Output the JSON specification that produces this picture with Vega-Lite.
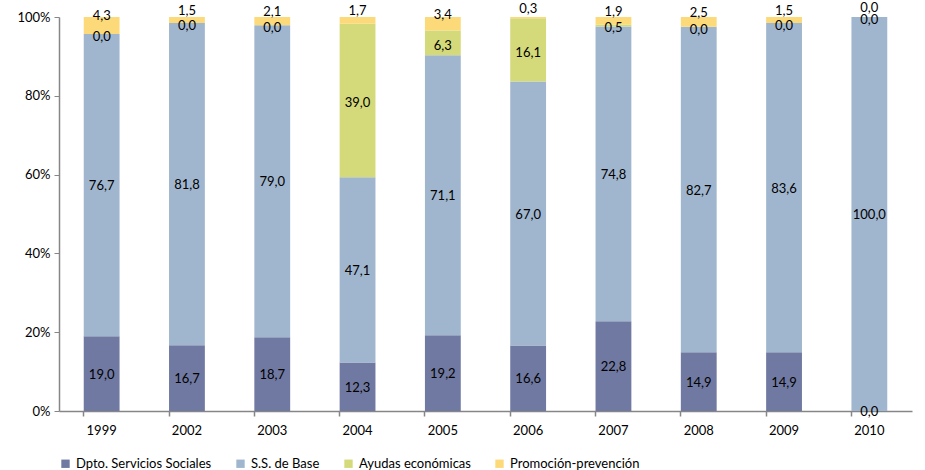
{
  "$schema": "https://vega.github.io/schema/vega-lite/v6.json",
  "width": 853,
  "height": 394,
  "autosize": "none",
  "padding": {"left": 59, "top": 17, "right": 13, "bottom": 59},
  "config": {
    "view": {"stroke": null},
    "font": "Lato",
    "locale": {"number": {"decimal": ",", "thousands": ".", "grouping": [3], "currency": ["", " €"]}}
  },
  "data": {"values": [
    {"year": "1999", "serie": "Dpto. Servicios Sociales", "value": 19.0},
    {"year": "1999", "serie": "S.S. de Base", "value": 76.7},
    {"year": "1999", "serie": "Ayudas económicas", "value": 0.0},
    {"year": "1999", "serie": "Promoción-prevención", "value": 4.3},
    {"year": "2002", "serie": "Dpto. Servicios Sociales", "value": 16.7},
    {"year": "2002", "serie": "S.S. de Base", "value": 81.8},
    {"year": "2002", "serie": "Ayudas económicas", "value": 0.0},
    {"year": "2002", "serie": "Promoción-prevención", "value": 1.5},
    {"year": "2003", "serie": "Dpto. Servicios Sociales", "value": 18.7},
    {"year": "2003", "serie": "S.S. de Base", "value": 79.0},
    {"year": "2003", "serie": "Ayudas económicas", "value": 0.0},
    {"year": "2003", "serie": "Promoción-prevención", "value": 2.1},
    {"year": "2004", "serie": "Dpto. Servicios Sociales", "value": 12.3},
    {"year": "2004", "serie": "S.S. de Base", "value": 47.1},
    {"year": "2004", "serie": "Ayudas económicas", "value": 39.0},
    {"year": "2004", "serie": "Promoción-prevención", "value": 1.7},
    {"year": "2005", "serie": "Dpto. Servicios Sociales", "value": 19.2},
    {"year": "2005", "serie": "S.S. de Base", "value": 71.1},
    {"year": "2005", "serie": "Ayudas económicas", "value": 6.3},
    {"year": "2005", "serie": "Promoción-prevención", "value": 3.4},
    {"year": "2006", "serie": "Dpto. Servicios Sociales", "value": 16.6},
    {"year": "2006", "serie": "S.S. de Base", "value": 67.0},
    {"year": "2006", "serie": "Ayudas económicas", "value": 16.1},
    {"year": "2006", "serie": "Promoción-prevención", "value": 0.3},
    {"year": "2007", "serie": "Dpto. Servicios Sociales", "value": 22.8},
    {"year": "2007", "serie": "S.S. de Base", "value": 74.8},
    {"year": "2007", "serie": "Ayudas económicas", "value": 0.5},
    {"year": "2007", "serie": "Promoción-prevención", "value": 1.9},
    {"year": "2008", "serie": "Dpto. Servicios Sociales", "value": 14.9},
    {"year": "2008", "serie": "S.S. de Base", "value": 82.7},
    {"year": "2008", "serie": "Ayudas económicas", "value": 0.0},
    {"year": "2008", "serie": "Promoción-prevención", "value": 2.5},
    {"year": "2009", "serie": "Dpto. Servicios Sociales", "value": 14.9},
    {"year": "2009", "serie": "S.S. de Base", "value": 83.6},
    {"year": "2009", "serie": "Ayudas económicas", "value": 0.0},
    {"year": "2009", "serie": "Promoción-prevención", "value": 1.5},
    {"year": "2010", "serie": "Dpto. Servicios Sociales", "value": 0.0},
    {"year": "2010", "serie": "S.S. de Base", "value": 100.0},
    {"year": "2010", "serie": "Ayudas económicas", "value": 0.0},
    {"year": "2010", "serie": "Promoción-prevención", "value": 0.0}
  ]},
  "transform": [
    {"calculate": "indexof(['Dpto. Servicios Sociales','S.S. de Base','Ayudas económicas','Promoción-prevención'], datum.serie)", "as": "k"},
    {"stack": "value", "groupby": ["year"], "sort": [{"field": "k", "order": "ascending"}], "offset": "normalize", "as": ["v0", "v1"]},
    {"calculate": "(datum.v0 + datum.v1) / 2", "as": "mid"}
  ],
  "resolve": {"axis": {"x": "independent"}},
  "layer": [
    {
      "mark": {"type": "bar"},
      "encoding": {
        "x": {"field": "year", "type": "nominal", "sort": null,
          "scale": {"paddingInner": 0.58, "paddingOuter": 0.29},
          "axis": {"title": null, "orient": "bottom", "ticks": false, "domain": true, "domainColor": "#868686", "domainWidth": 1.5, "labelAngle": 0, "labelFontSize": 13, "labelColor": "#000", "labelPadding": 13}},
        "y": {"field": "v0", "type": "quantitative",
          "scale": {"domain": [0, 1]},
          "axis": {"title": null, "format": ".0%", "values": [0, 0.2, 0.4, 0.6, 0.8, 1], "grid": false, "domainColor": "#868686", "domainWidth": 1.5, "tickColor": "#868686", "tickSize": 5, "labelFontSize": 13, "labelColor": "#000", "labelPadding": 4}},
        "y2": {"field": "v1"},
        "color": {"field": "serie", "type": "nominal",
          "scale": {"domain": ["Dpto. Servicios Sociales", "S.S. de Base", "Ayudas económicas", "Promoción-prevención"],
                    "range": ["#7079A1", "#A0B6CE", "#D4DA7A", "#FCDA7A"]},
          "legend": {"title": null, "orient": "bottom", "direction": "horizontal", "symbolType": "square", "symbolSize": 70, "symbolStrokeWidth": 0, "labelFontSize": 13, "labelColor": "#000", "columnPadding": 22, "offset": 20, "labelLimit": 300}}
      }
    },
    {
      "transform": [{"filter": "datum.serie == 'Dpto. Servicios Sociales' || datum.serie == 'S.S. de Base'"}],
      "mark": {"type": "text", "fontSize": 13, "color": "#000", "dy": 1},
      "encoding": {
        "x": {"field": "year", "type": "nominal", "sort": null,
          "axis": {"title": null, "orient": "bottom", "labels": false, "domain": false, "ticks": true, "bandPosition": 0, "tickColor": "#868686", "tickSize": 5, "tickWidth": 1.5}},
        "y": {"field": "mid", "type": "quantitative"},
        "text": {"field": "value", "type": "quantitative", "format": ".1f"}
      }
    },
    {
      "transform": [{"filter": "datum.serie == 'Ayudas económicas'"}],
      "mark": {"type": "text", "fontSize": 13, "color": "#000", "dy": 3},
      "encoding": {
        "x": {"field": "year", "type": "nominal", "sort": null, "axis": null},
        "y": {"field": "mid", "type": "quantitative"},
        "text": {"field": "value", "type": "quantitative", "format": ".1f"}
      }
    },
    {
      "transform": [{"filter": "datum.serie == 'Promoción-prevención'"}],
      "mark": {"type": "text", "fontSize": 13, "color": "#000", "dy": -9},
      "encoding": {
        "x": {"field": "year", "type": "nominal", "sort": null, "axis": null},
        "y": {"field": "mid", "type": "quantitative"},
        "text": {"field": "value", "type": "quantitative", "format": ".1f"}
      }
    }
  ]
}
